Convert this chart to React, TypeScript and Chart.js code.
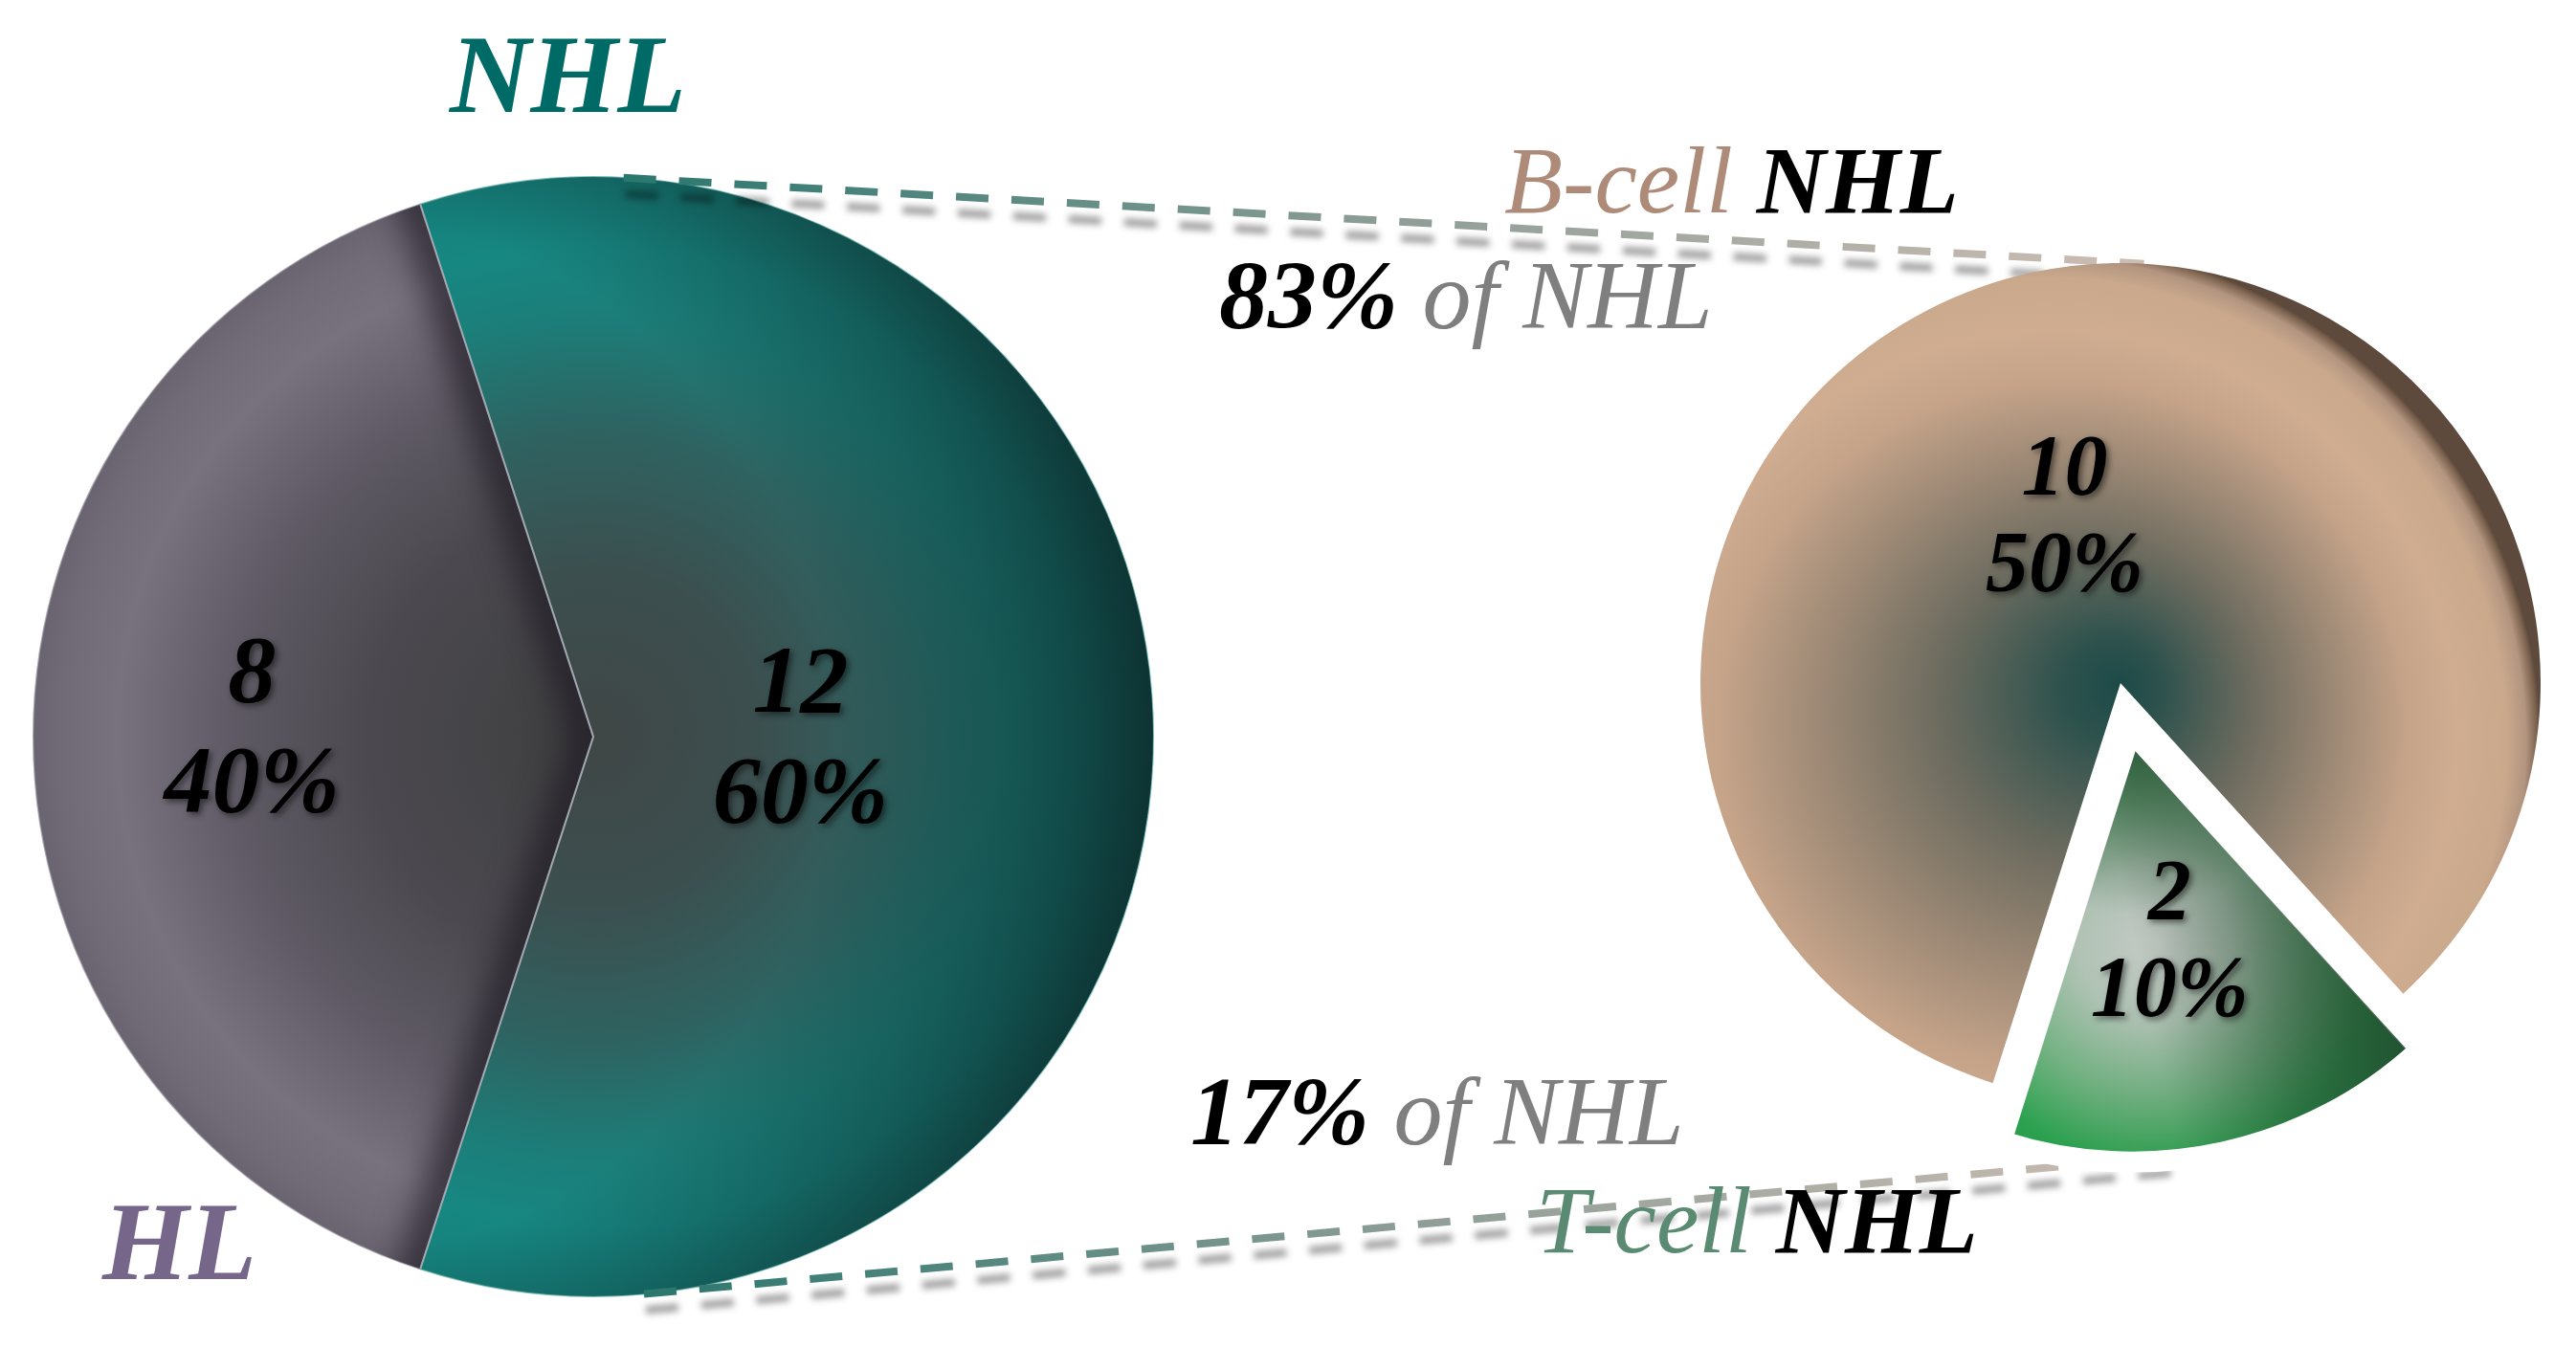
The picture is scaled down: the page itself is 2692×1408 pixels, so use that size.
import React, { useEffect, useRef } from "react";
import { Chart, registerables } from "chart.js";

Chart.register(...registerables);

// ---------------- data ----------------
const mainCategories = ["HL", "NHL"];
const mainValues = [8, 12];
const subCategories = ["B-cell", "T-cell"];
const subValues = [10, 2];
const subSuffix = "NHL";

// ---------------- layout / style ----------------
const W = 2692;
const H = 1408;
const SERIF = '"Liberation Serif", "Times New Roman", serif';
const LEFT_R = 585;
const RIGHT_R = 439;
const RIGHT_OFFSET = 236; // chart.js v4 translates an arc by offset / 4
const T_BORDER = 14;

const fnt = (size: number, bold: boolean, italic = true) =>
  `${italic ? "italic " : ""}${bold ? "bold " : ""}${size}px ${SERIF}`;

const sum = (a: number[]) => a.reduce((s, v) => s + v, 0);
const grandTotal = sum(mainValues);
const subTotal = sum(subValues);
const pct = (v: number, t: number) => `${Math.round((v / t) * 100)}%`;

function centerOf(chart: any) {
  const a = chart.chartArea;
  return { cx: (a.left + a.right) / 2, cy: (a.top + a.bottom) / 2 };
}

function stops(g: CanvasGradient, s: [number, string][]) {
  s.forEach(([o, c]) => g.addColorStop(o, c));
  return g;
}

function leftFill(c: any) {
  const chart = c.chart;
  if (!chart.chartArea) return "#555";
  const { cx, cy } = centerOf(chart);
  const r = LEFT_R;
  const ctx = chart.ctx as CanvasRenderingContext2D;
  const g = ctx.createRadialGradient(cx, cy, 0, cx, cy, r);
  if (c.dataIndex === 0) {
    return stops(g, [
      [0, "#3e3e3f"],
      [0.4, "#4b494f"],
      [0.65, "#5f5a65"],
      [0.85, "#78727f"],
      [0.95, "#716b78"],
      [1, "#6a6470"],
    ]);
  }
  return stops(g, [
    [0, "#404646"],
    [0.3, "#3c4f4f"],
    [0.55, "#2e6361"],
    [0.75, "#1c7e79"],
    [0.88, "#178782"],
    [1, "#157f7a"],
  ]);
}

function rightFill(c: any) {
  const chart = c.chart;
  if (!chart.chartArea) return "#c8a88c";
  const { cx, cy } = centerOf(chart);
  const r = RIGHT_R;
  const ctx = chart.ctx as CanvasRenderingContext2D;
  if (c.dataIndex === 0) {
    const g = ctx.createRadialGradient(cx, cy, 0, cx - 0.2 * r, cy + 0.15 * r, 1.2 * r);
    return stops(g, [
      [0, "#1c4a48"],
      [0.1, "#2e524d"],
      [0.3, "#6a6a5e"],
      [0.5, "#9a8774"],
      [0.68, "#c4a389"],
      [0.8, "#d0ad91"],
      [0.92, "#c9a88c"],
      [0.965, "#b39580"],
      [0.99, "#7d6450"],
      [1, "#5e4a3c"],
    ]);
  }
  // T-cell wedge, gradient in untranslated coordinates
  const meta = chart.getDatasetMeta(0);
  const arc = meta && meta.data[1];
  let mid = (167.7 * Math.PI) / 180 - Math.PI / 2;
  if (arc && arc.startAngle !== undefined) mid = (arc.startAngle + arc.endAngle) / 2;
  const fx = cx + Math.cos(mid) * 0.5 * r - 0.05 * r;
  const fy = cy + Math.sin(mid) * 0.5 * r;
  const g = ctx.createRadialGradient(fx, fy, 0, fx, fy, 0.62 * r);
  return stops(g, [
    [0, "#d4d7d4"],
    [0.3, "#b8cabc"],
    [0.6, "#72b482"],
    [0.85, "#2ca350"],
    [1, "#26984a"],
  ]);
}

function sectorPath(ctx: CanvasRenderingContext2D, arc: any) {
  const p = arc.getProps(["x", "y", "startAngle", "endAngle", "outerRadius"], true);
  const off = (arc.options.offset || 0) / 4;
  const mid = (p.startAngle + p.endAngle) / 2;
  const x = p.x + Math.cos(mid) * off;
  const y = p.y + Math.sin(mid) * off;
  ctx.beginPath();
  ctx.moveTo(x, y);
  ctx.arc(x, y, p.outerRadius, p.startAngle, p.endAngle);
  ctx.closePath();
  return { x, y, r: p.outerRadius, start: p.startAngle, end: p.endAngle, mid };
}

function drawSliceLabel(
  ctx: CanvasRenderingContext2D,
  x: number,
  y: number,
  lines: string[],
  size: number,
  lineH: number
) {
  ctx.save();
  ctx.font = fnt(size, true);
  ctx.textAlign = "center";
  ctx.textBaseline = "middle";
  ctx.fillStyle = "#000";
  ctx.shadowColor = "rgba(0,0,0,0.5)";
  ctx.shadowBlur = 6;
  ctx.shadowOffsetX = 3;
  ctx.shadowOffsetY = 3;
  const top = y - ((lines.length - 1) * lineH) / 2;
  lines.forEach((t, i) => ctx.fillText(t, x, top + i * lineH + size * 0.02));
  ctx.restore();
}

function arcPoint(arc: any, angleFromTopDeg: number | null, k: number) {
  const p = arc.getProps(["x", "y", "startAngle", "endAngle", "outerRadius"], true);
  const off = (arc.options.offset || 0) / 4;
  const mid = (p.startAngle + p.endAngle) / 2;
  const tx = p.x + Math.cos(mid) * off;
  const ty = p.y + Math.sin(mid) * off;
  const ang = angleFromTopDeg === null ? mid : (angleFromTopDeg * Math.PI) / 180 - Math.PI / 2;
  return { x: tx + Math.cos(ang) * p.outerRadius * k, y: ty + Math.sin(ang) * p.outerRadius * k };
}

const leftLabelK = [0.61, 0.37];
const leftLabelDy = [-7, 4];
const rightLabelK = [0.4, 0.5];
const rightLabelDx = [-21, -8];

function drawRuns(
  ctx: CanvasRenderingContext2D,
  x: number,
  y: number,
  runs: { text: string; font: string; color: string }[]
) {
  let cx = x;
  ctx.textAlign = "left";
  ctx.textBaseline = "alphabetic";
  runs.forEach((r) => {
    ctx.font = r.font;
    ctx.fillStyle = r.color;
    ctx.fillText(r.text, cx, y);
    cx += ctx.measureText(r.text).width;
  });
}

function drawDashed(ctx: CanvasRenderingContext2D, a: { x: number; y: number }, b: { x: number; y: number }) {
  ctx.save();
  const g = ctx.createLinearGradient(a.x, a.y, b.x, b.y);
  g.addColorStop(0, "#2a776e");
  g.addColorStop(0.5, "#8d9d96");
  g.addColorStop(1, "#ccbdb3");
  ctx.strokeStyle = g;
  ctx.lineWidth = 8;
  ctx.lineCap = "butt";
  ctx.setLineDash([34, 24]);
  ctx.shadowColor = "rgba(0,0,0,0.38)";
  ctx.shadowBlur = 7;
  ctx.shadowOffsetX = 2;
  ctx.shadowOffsetY = 17;
  ctx.beginPath();
  ctx.moveTo(a.x, a.y);
  ctx.lineTo(b.x, b.y);
  ctx.stroke();
  ctx.restore();
}

export default function App() {
  const leftRef = useRef<HTMLCanvasElement>(null);
  const rightRef = useRef<HTMLCanvasElement>(null);

  useEffect(() => {
    if (!leftRef.current || !rightRef.current) return;

    const leftLabels = {
      id: "leftLabels",
      afterDatasetsDraw(chart: any) {
        const ctx = chart.ctx as CanvasRenderingContext2D;
        const arcs = chart.getDatasetMeta(0).data as any[];

        // HL: inner shade along its straight edges
        ctx.save();
        const s0 = sectorPath(ctx, arcs[0]);
        ctx.clip();
        ctx.filter = "blur(18px)";
        ctx.strokeStyle = "rgba(28,24,34,0.75)";
        ctx.lineWidth = 44;
        ctx.beginPath();
        ctx.moveTo(s0.x + Math.cos(s0.start) * s0.r * 1.1, s0.y + Math.sin(s0.start) * s0.r * 1.1);
        ctx.lineTo(s0.x, s0.y);
        ctx.lineTo(s0.x + Math.cos(s0.end) * s0.r * 1.1, s0.y + Math.sin(s0.end) * s0.r * 1.1);
        ctx.stroke();
        ctx.restore();

        // NHL: darker towards the right
        ctx.save();
        const s1 = sectorPath(ctx, arcs[1]);
        ctx.clip();
        const lx = s1.x - 0.5 * s1.r;
        const g = ctx.createRadialGradient(lx, s1.y, 0, lx, s1.y, 1.5 * s1.r);
        stops(g, [
          [0, "rgba(14,42,42,0)"],
          [0.62, "rgba(14,42,42,0)"],
          [0.82, "rgba(14,42,42,0.45)"],
          [1, "rgba(12,38,38,0.85)"],
        ]);
        ctx.fillStyle = g;
        ctx.fillRect(0, 0, chart.width, chart.height);
        ctx.restore();

        // separator line
        ctx.save();
        ctx.strokeStyle = "rgba(185,180,190,0.85)";
        ctx.lineWidth = 2;
        ctx.beginPath();
        ctx.moveTo(s0.x + Math.cos(s0.start) * s0.r, s0.y + Math.sin(s0.start) * s0.r);
        ctx.lineTo(s0.x, s0.y);
        ctx.lineTo(s0.x + Math.cos(s0.end) * s0.r, s0.y + Math.sin(s0.end) * s0.r);
        ctx.stroke();
        ctx.restore();

        arcs.forEach((arc: any, i: number) => {
          const p = arcPoint(arc, null, leftLabelK[i]);
          drawSliceLabel(ctx, p.x, p.y + leftLabelDy[i], [String(mainValues[i]), pct(mainValues[i], grandTotal)], 100, 115);
        });
      },
    };

    const leftChart = new Chart(leftRef.current, {
      type: "pie",
      data: {
        labels: mainCategories,
        datasets: [
          {
            data: mainValues,
            backgroundColor: leftFill as any,
            borderColor: ["rgba(120,114,128,0.6)", "rgba(40,140,134,0.6)"],
            borderWidth: 2,
            rotation: 198,
            radius: LEFT_R,
          } as any,
        ],
      },
      options: {
        responsive: false,
        animation: false,
        events: [],
        rotation: 198,
        radius: LEFT_R,
        layout: { padding: { left: 20, right: 1472, top: 150, bottom: 18 } },
        plugins: { legend: { display: false }, tooltip: { enabled: false } },
      } as any,
      plugins: [leftLabels],
    });

    const overlay = {
      id: "overlay",
      beforeDatasetsDraw(chart: any) {
        const ctx = chart.ctx as CanvasRenderingContext2D;
        const lArcs = leftChart.getDatasetMeta(0).data as any[];
        const rArcs = chart.getDatasetMeta(0).data as any[];
        drawDashed(ctx, arcPoint(lArcs[1], 3.1, 1), arcPoint(rArcs[0], 3.2, 1));
        drawDashed(ctx, arcPoint(lArcs[1], 174.8, 1), arcPoint(rArcs[1], 174.8, 1));
      },
      afterDatasetsDraw(chart: any) {
        const ctx = chart.ctx as CanvasRenderingContext2D;
        const arcs = chart.getDatasetMeta(0).data as any[];

        // T-cell wedge shading
        ctx.save();
        const s = sectorPath(ctx, arcs[1]);
        ctx.clip();
        const bl = { x: s.x + Math.cos(s.end) * s.r, y: s.y + Math.sin(s.end) * s.r };
        const rc = { x: s.x + Math.cos(s.start) * s.r, y: s.y + Math.sin(s.start) * s.r };
        const lg = ctx.createLinearGradient(bl.x, bl.y, rc.x, rc.y);
        stops(lg, [
          [0, "rgba(35,65,45,0)"],
          [0.4, "rgba(35,65,45,0.08)"],
          [0.7, "rgba(38,68,48,0.5)"],
          [1, "rgba(32,70,44,0.85)"],
        ]);
        ctx.fillStyle = lg;
        ctx.fillRect(0, 0, chart.width, chart.height);
        const tg = ctx.createRadialGradient(s.x, s.y, 0, s.x, s.y, 0.42 * s.r);
        stops(tg, [
          [0, "rgba(45,80,55,0.8)"],
          [1, "rgba(45,80,55,0)"],
        ]);
        ctx.fillStyle = tg;
        ctx.fillRect(0, 0, chart.width, chart.height);
        ctx.restore();

        // white outline of the exploded wedge
        ctx.save();
        sectorPath(ctx, arcs[1]);
        ctx.strokeStyle = "#ffffff";
        ctx.lineWidth = T_BORDER;
        ctx.lineJoin = "bevel";
        ctx.stroke();
        ctx.restore();

        arcs.forEach((arc: any, i: number) => {
          const p = arcPoint(arc, null, rightLabelK[i]);
          drawSliceLabel(ctx, p.x + rightLabelDx[i], p.y, [String(subValues[i]), pct(subValues[i], grandTotal)], 90, 101);
        });
      },
      afterDraw(chart: any) {
        const ctx = chart.ctx as CanvasRenderingContext2D;
        ctx.save();
        drawRuns(ctx, 470, 117, [{ text: mainCategories[1], font: fnt(117, true), color: "#006b66" }]);
        drawRuns(ctx, 107, 1337, [{ text: mainCategories[0], font: fnt(116, true), color: "#76668a" }]);
        drawRuns(ctx, 1572, 222, [
          { text: subCategories[0] + " ", font: fnt(100, false), color: "#ad8b78" },
          { text: subSuffix, font: fnt(100, true), color: "#000" },
        ]);
        drawRuns(ctx, 1605, 1309, [
          { text: subCategories[1] + " ", font: fnt(100, false), color: "#5a8a72" },
          { text: subSuffix, font: fnt(100, true), color: "#000" },
        ]);
        drawRuns(ctx, 1274, 343, [
          { text: pct(subValues[0], subTotal), font: fnt(102, true), color: "#000" },
          { text: " of " + mainCategories[1], font: fnt(102, false), color: "#7f7f7f" },
        ]);
        drawRuns(ctx, 1244, 1196, [
          { text: pct(subValues[1], subTotal), font: fnt(102, true), color: "#000" },
          { text: " of " + mainCategories[1], font: fnt(102, false), color: "#7f7f7f" },
        ]);
        ctx.restore();
      },
    };

    const rightChart = new Chart(rightRef.current, {
      type: "pie",
      data: {
        labels: subCategories,
        datasets: [
          {
            data: subValues,
            backgroundColor: rightFill as any,
            borderColor: ["rgba(0,0,0,0)", "#ffffff"],
            borderWidth: [0, T_BORDER],
            offset: [0, RIGHT_OFFSET],
            rotation: 197.7,
            radius: RIGHT_R,
          } as any,
        ],
      },
      options: {
        responsive: false,
        animation: false,
        events: [],
        rotation: 197.7,
        radius: RIGHT_R,
        layout: { padding: { left: 1760, right: 20, top: 250, bottom: 230 } },
        plugins: { legend: { display: false }, tooltip: { enabled: false } },
      } as any,
      plugins: [overlay],
    });

    return () => {
      rightChart.destroy();
      leftChart.destroy();
    };
  }, []);

  const canvasStyle: React.CSSProperties = { position: "absolute", left: 0, top: 0, width: W, height: H };
  return (
    <div style={{ position: "absolute", left: 0, top: 0, width: W, height: H, background: "#ffffff", overflow: "hidden" }}>
      <canvas ref={leftRef} width={W} height={H} style={canvasStyle} />
      <canvas ref={rightRef} width={W} height={H} style={canvasStyle} />
    </div>
  );
}
